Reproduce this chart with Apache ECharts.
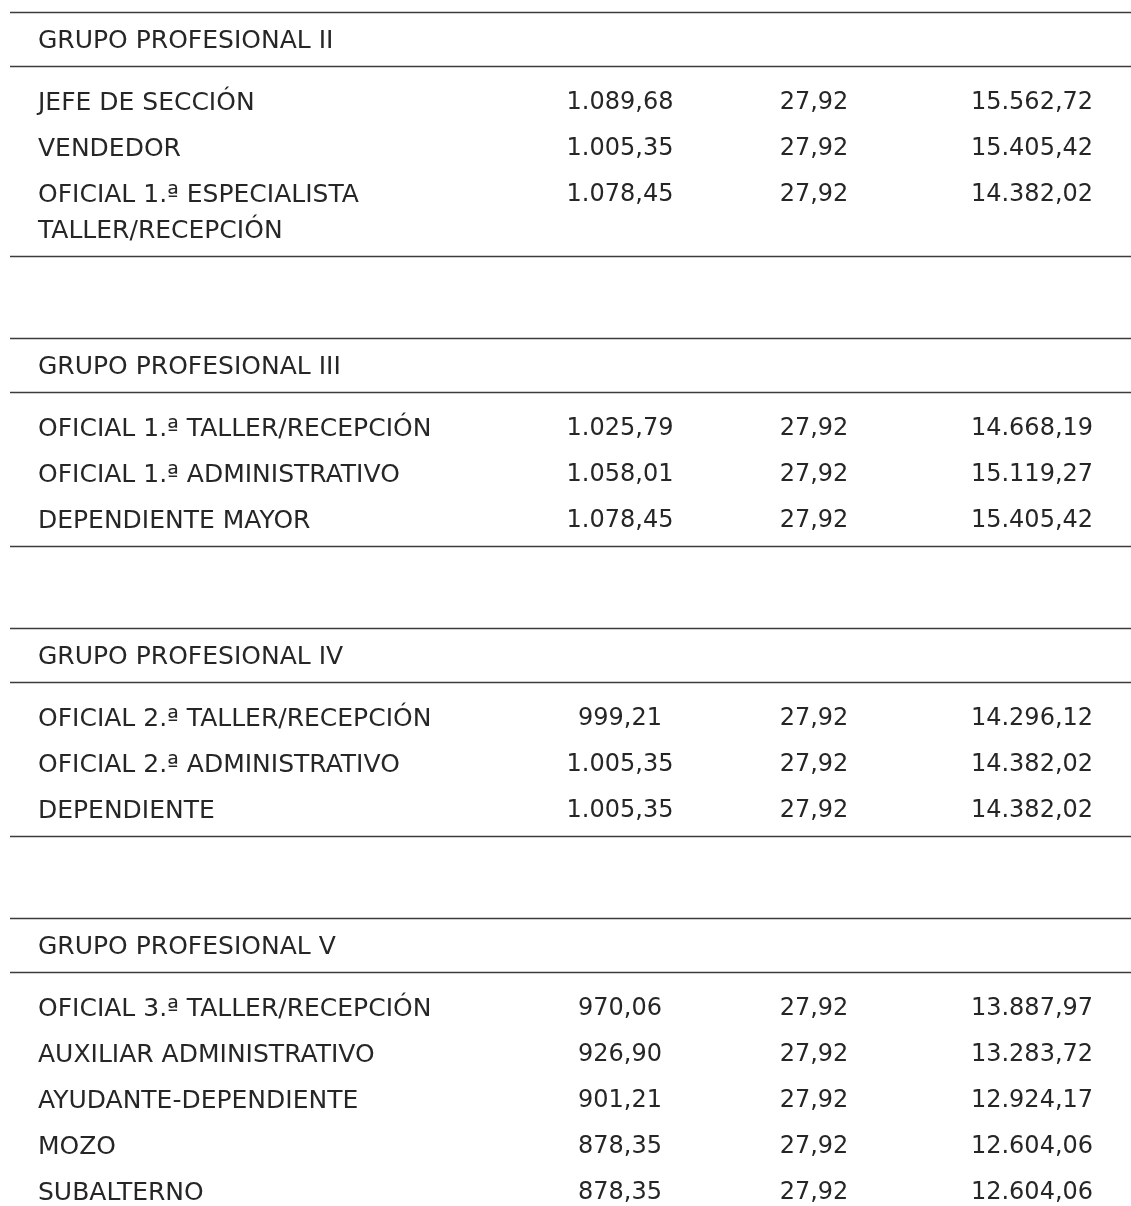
<!DOCTYPE html>
<html><head><meta charset="utf-8">
<script src="https://cdn.jsdelivr.net/npm/echarts@6/dist/echarts.min.js"></script>
<style>html,body{margin:0;padding:0;background:#fff}#c{width:1131px;height:1206px}</style>
</head><body><div id="c"></div>
<script>
// ---- data ----
const groups = ['GRUPO PROFESIONAL II', 'GRUPO PROFESIONAL III', 'GRUPO PROFESIONAL IV', 'GRUPO PROFESIONAL V'];
const groupOfRow = [0, 0, 0, 1, 1, 1, 2, 2, 2, 3, 3, 3, 3, 3];
const categories = [
  'JEFE DE SECCIÓN', 'VENDEDOR', 'OFICIAL 1.ª ESPECIALISTA\nTALLER/RECEPCIÓN',
  'OFICIAL 1.ª TALLER/RECEPCIÓN', 'OFICIAL 1.ª ADMINISTRATIVO', 'DEPENDIENTE MAYOR',
  'OFICIAL 2.ª TALLER/RECEPCIÓN', 'OFICIAL 2.ª ADMINISTRATIVO', 'DEPENDIENTE',
  'OFICIAL 3.ª TALLER/RECEPCIÓN', 'AUXILIAR ADMINISTRATIVO', 'AYUDANTE-DEPENDIENTE', 'MOZO', 'SUBALTERNO'
];
const salarioBase = [1089.68, 1005.35, 1078.45, 1025.79, 1058.01, 1078.45, 999.21, 1005.35, 1005.35, 970.06, 926.90, 901.21, 878.35, 878.35];
const plusMensual = [27.92, 27.92, 27.92, 27.92, 27.92, 27.92, 27.92, 27.92, 27.92, 27.92, 27.92, 27.92, 27.92, 27.92];
const totalAnual = [15562.72, 15405.42, 14382.02, 14668.19, 15119.27, 15405.42, 14296.12, 14382.02, 14382.02, 13887.97, 13283.72, 12924.17, 12604.06, 12604.06];

// ---- layout constants ----
const W = 1131, H = 1206;
const colX = [38, 620, 814, 1032];
const ruleX0 = 10;
const firstTop = 12, headerOff = 27, headerRuleOff = 54, firstRowOff = 35,
      rowPitch = 46, wrapExtra = 36, bottomOff = 27, groupGap = 82;
const FONT_LABEL = '25px "DejaVu Sans", Verdana, sans-serif';
const FONT_NUM = '24px "DejaVu Sans", Verdana, sans-serif';
const TEXT = '#262626', RULE = '#3c3c3c';

function fmt(v) {
  const parts = v.toFixed(2).split('.');
  const intPart = parts[0].replace(/\B(?=(\d{3})+(?!\d))/g, '.');
  return intPart + ',' + parts[1];
}

// build positions from the structure
const rules = [];   // y values
const texts = [];   // {x, y, text, align, font}
let blockTop = firstTop;
groups.forEach((g, gi) => {
  rules.push(blockTop);
  texts.push({ x: colX[0], y: blockTop + headerOff, text: g, align: 'left', font: FONT_LABEL });
  rules.push(blockTop + headerRuleOff);
  let y = blockTop + headerRuleOff + firstRowOff;
  let last = y;
  categories.forEach((c, i) => {
    if (groupOfRow[i] !== gi) return;
    texts.push({ x: colX[0], y: y, text: c, align: 'left', font: FONT_LABEL });
    texts.push({ x: colX[1], y: y, text: fmt(salarioBase[i]), align: 'center', font: FONT_NUM });
    texts.push({ x: colX[2], y: y, text: fmt(plusMensual[i]), align: 'center', font: FONT_NUM });
    texts.push({ x: colX[3], y: y, text: fmt(totalAnual[i]), align: 'center', font: FONT_NUM });
    const lines = c.split('\n').length;
    last = y + (lines - 1) * wrapExtra;
    y = last + rowPitch;
  });
  const bottom = last + bottomOff;
  if (bottom < H) rules.push(bottom);
  blockTop = bottom + groupGap;
});

const chart = echarts.init(document.getElementById('c'), null, { renderer: 'canvas' });
chart.setOption({
  animation: false,
  backgroundColor: '#fff',
  grid: { left: 0, right: 0, top: 0, bottom: 0 },
  xAxis: { type: 'value', min: 0, max: W, show: false },
  yAxis: { type: 'value', min: 0, max: H, inverse: true, show: false },
  series: [
    {
      type: 'custom',
      name: 'rules',
      clip: false,
      data: rules.map(y => [ruleX0, y]),
      renderItem: function (params, api) {
        const p1 = api.coord([api.value(0), api.value(1)]);
        const p2 = api.coord([W, api.value(1)]);
        return { type: 'line', shape: { x1: p1[0], y1: Math.round(p1[1]) + 0.5, x2: p2[0], y2: Math.round(p2[1]) + 0.5 },
                 style: { stroke: RULE, lineWidth: 1.5 } };
      }
    },
    {
      type: 'custom',
      name: 'cells',
      clip: false,
      data: texts.map(t => [t.x, t.y]),
      renderItem: function (params, api) {
        const t = texts[params.dataIndex];
        const p = api.coord([api.value(0), api.value(1)]);
        return { type: 'text', x: p[0], y: p[1] - 16,
                 style: { text: t.text, font: t.font, fill: TEXT, align: t.align, verticalAlign: 'top', lineHeight: 36 } };
      }
    }
  ]
});
</script>
</body></html>
